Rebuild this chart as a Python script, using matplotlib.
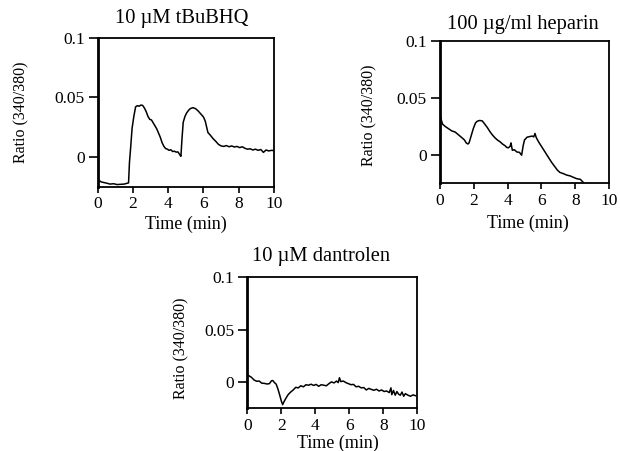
import matplotlib
matplotlib.use("Agg")
import matplotlib.pyplot as plt

plt.rcParams['font.family'] = ['Liberation Serif', 'DejaVu Serif']

# ---- data (time in min, ratio 340/380) ----
t_tbu = [0, 0.1, 0.2, 0.35, 0.5, 0.7, 0.9, 1.1, 1.3, 1.5, 1.65, 1.75, 1.8, 1.87, 1.95,
         2.05, 2.15, 2.25, 2.35, 2.45, 2.55, 2.65, 2.75, 2.85, 2.95, 3.05, 3.15, 3.25,
         3.35, 3.45, 3.55, 3.65, 3.75, 3.85, 3.95, 4.05, 4.15, 4.25, 4.35, 4.45, 4.55,
         4.65, 4.72, 4.78, 4.85, 4.95, 5.05, 5.15, 5.25, 5.4, 5.55, 5.7, 5.85, 6.0, 6.1,
         6.18, 6.25, 6.4, 6.55, 6.7, 6.85, 7.0, 7.15, 7.3, 7.45, 7.6, 7.75, 7.9, 8.05,
         8.2, 8.35, 8.5, 8.65, 8.8, 8.95, 9.1, 9.25, 9.4, 9.55, 9.7, 9.85, 10.0]
r_tbu = [-0.019, -0.020, -0.021, -0.0215, -0.022, -0.0228, -0.0225, -0.0232, -0.023,
         -0.0228, -0.0222, -0.0218, -0.005, 0.008, 0.024, 0.034, 0.042, 0.043, 0.0425,
         0.0435, 0.0432, 0.041, 0.038, 0.034, 0.0315, 0.031, 0.0285, 0.026, 0.0235,
         0.020, 0.0165, 0.012, 0.009, 0.007, 0.0065, 0.0055, 0.006, 0.0045, 0.0048,
         0.004, 0.0042, 0.002, 0.0005, 0.015, 0.029, 0.034, 0.037, 0.039, 0.0405, 0.0413,
         0.0405, 0.0385, 0.036, 0.0335, 0.030, 0.025, 0.0205, 0.018, 0.0152, 0.013,
         0.0105, 0.0092, 0.0088, 0.0095, 0.0085, 0.0092, 0.0083, 0.0088, 0.0078, 0.0085,
         0.0072, 0.0065, 0.0068, 0.0058, 0.0065, 0.0055, 0.0062, 0.0038, 0.0058, 0.005,
         0.0055, 0.0053]

t_hep = [0, 0.05, 0.15, 0.3, 0.5, 0.7, 0.9, 1.1, 1.3, 1.45, 1.55, 1.65, 1.72, 1.85, 1.97,
         2.1, 2.2, 2.35, 2.5, 2.65, 2.8, 2.95, 3.1, 3.25, 3.4, 3.55, 3.7, 3.85, 3.95,
         4.05, 4.15, 4.2, 4.28, 4.4, 4.55, 4.7, 4.83, 4.92, 5.0, 5.15, 5.3, 5.45, 5.55,
         5.62, 5.7, 5.85, 6.0, 6.15, 6.3, 6.45, 6.6, 6.8, 6.95, 7.1, 7.3, 7.5, 7.7, 7.9,
         8.1, 8.3, 8.5, 8.65]
r_hep = [0.036, 0.032, 0.027, 0.025, 0.023, 0.021, 0.020, 0.0175, 0.015, 0.013, 0.0105,
         0.0095, 0.0105, 0.017, 0.023, 0.028, 0.0295, 0.0302, 0.0298, 0.027, 0.024,
         0.0205, 0.0175, 0.015, 0.013, 0.0115, 0.0095, 0.008, 0.0065, 0.0062, 0.0075,
         0.0105, 0.004, 0.0045, 0.0025, 0.0022, -0.0003, 0.008, 0.013, 0.0155, 0.016,
         0.0165, 0.0158, 0.0188, 0.015, 0.011, 0.0075, 0.004, 0.0005, -0.003, -0.0065,
         -0.0105, -0.0135, -0.0155, -0.0165, -0.0178, -0.0185, -0.0198, -0.021, -0.0215,
         -0.0245, -0.027]

t_dan = [0, 0.1, 0.25, 0.4, 0.55, 0.7, 0.85, 1.0, 1.15, 1.3, 1.42, 1.5, 1.6, 1.7, 1.8,
         1.9, 2.0, 2.08, 2.15, 2.25, 2.4, 2.55, 2.7, 2.85, 3.0, 3.15, 3.3, 3.45, 3.6,
         3.75, 3.9, 4.05, 4.2, 4.35, 4.5, 4.65, 4.8, 4.95, 5.1, 5.25, 5.35, 5.42, 5.5,
         5.65, 5.8, 5.95, 6.1, 6.25, 6.4, 6.55, 6.7, 6.85, 7.0, 7.15, 7.3, 7.45, 7.6,
         7.75, 7.9, 8.05, 8.2, 8.35, 8.45, 8.5, 8.6, 8.7, 8.8, 8.9, 9.0, 9.1, 9.2, 9.3,
         9.45, 9.6, 9.75, 9.9]
r_dan = [0.007, 0.006, 0.0045, 0.002, 0.0008, 0.001, -0.001, -0.0012, -0.0018, -0.0015,
         0.0012, 0.0015, -0.0005, -0.002, -0.0065, -0.012, -0.018, -0.0215, -0.019,
         -0.016, -0.012, -0.0095, -0.0075, -0.005, -0.0055, -0.0035, -0.0045, -0.0025,
         -0.003, -0.002, -0.0032, -0.0022, -0.004, -0.0025, -0.003, -0.0035, -0.0015,
         0.0002, -0.0008, 0.001, -0.0005, 0.0042, 0.0005, 0.001, -0.0005, -0.0015,
         -0.0025, -0.0022, -0.0045, -0.004, -0.0055, -0.0052, -0.0075, -0.006, -0.007,
         -0.0078, -0.0068, -0.0085, -0.0075, -0.009, -0.0085, -0.01, -0.0055, -0.012,
         -0.008, -0.0125, -0.009, -0.0115, -0.0125, -0.0095, -0.0135, -0.011, -0.0125,
         -0.0135, -0.0122, -0.013]

titles = ["10 \u00b5M tBuBHQ", "100 \u00b5g/ml heparin", "10 \u00b5M dantrolen"]
xticks = [0, 2, 4, 6, 8, 10]
yticks = [0, 0.05, 0.1]
yticklabels = ["0", "0.05", "0.1"]
xlabel = "Time (min)"
ylabel = "Ratio (340/380)"

W, H = 620, 451
fig = plt.figure(figsize=(W / 100, H / 100), dpi=100)

# panel geometry in pixels: left, right, top, bottom
panels = [
    dict(box=(97.7, 274, 37.7, 186.7), t=t_tbu, r=r_tbu, title=titles[0],
         title_xy=(182, 18), ylab_xy=(21.7, 112.5), xlab_xy=(186, 224)),
    dict(box=(440, 609, 41, 183.3), t=t_hep, r=r_hep, title=titles[1],
         title_xy=(522.5, 24), ylab_xy=(369, 115), xlab_xy=(528, 223)),
    dict(box=(247.3, 417.3, 277.3, 408.3), t=t_dan, r=r_dan, title=titles[2],
         title_xy=(321, 257), ylab_xy=(181.7, 348), xlab_xy=(338, 443)),
]

for p in panels:
    l, r, tp, b = p["box"]
    ax = fig.add_axes([l / W, 1 - b / H, (r - l) / W, (b - tp) / H])
    ax.plot(p["t"], p["r"], color="black", lw=1.1)
    ax.set_xlim(0, 10)
    ax.set_ylim(-0.025, 0.1)
    ax.set_xticks(xticks)
    ax.set_xticklabels([str(x) for x in xticks])
    ax.set_yticks(yticks)
    ax.set_yticklabels(yticklabels)
    ax.tick_params(axis="x", direction="out", length=4.5, width=1.2, labelsize=12.5, pad=2.5)
    ax.tick_params(axis="y", direction="out", length=6.5, width=1.2, labelsize=12.5, pad=3)
    for s in ["top", "right", "bottom"]:
        ax.spines[s].set_linewidth(1.3)
    ax.spines["left"].set_linewidth(2.0)
    fig.text(p["title_xy"][0] / W, 1 - p["title_xy"][1] / H, p["title"],
             ha="center", va="center", fontsize=14.8)
    fig.text(p["ylab_xy"][0] / W, 1 - p["ylab_xy"][1] / H, ylabel,
             ha="center", va="center", rotation=90, fontsize=11.5)
    fig.text(p["xlab_xy"][0] / W, 1 - p["xlab_xy"][1] / H, xlabel,
             ha="center", va="center", fontsize=13)

fig.savefig("out.png", dpi=100)
